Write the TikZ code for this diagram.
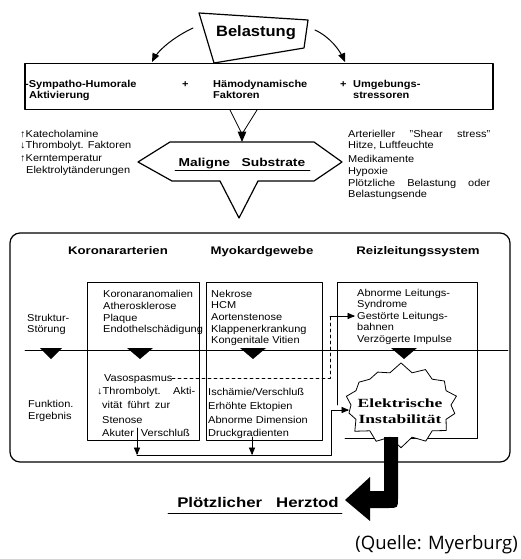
\documentclass[tikz,border=0pt]{standalone}
\usepackage{fontspec}
\setmainfont{Liberation Sans}[FakeStretch=1.1]
\newfontfamily\kopffont{Liberation Sans}[FakeStretch=1.2]
\newfontfamily\sternfont{Liberation Serif}[FakeStretch=1.4]
\newfontfamily\quellfont{Open Sans}
\usetikzlibrary{arrows,shapes.symbols}
\tikzset{
  zeile/.style={anchor=base west,inner sep=0pt,font=\fontsize{10}{12}\selectfont},
  fett/.style={anchor=base west,inner sep=0pt,font=\bfseries\fontsize{10}{12}\selectfont},
  kopf/.style={anchor=base,inner sep=0pt,font=\kopffont\bfseries\fontsize{11}{13}\selectfont},
  rahmen/.style={line width=0.8pt},
}

\begin{document}
\begin{tikzpicture}[line cap=round,line join=round,>=triangle 45,x=1pt,y=-1pt]
\useasboundingbox (0,0) rectangle (520,559);
% Belastung oben
\draw [line width=1.2pt] (199,13)-- (308,20)-- (304,48)-- (214,63)-- cycle;
\node[anchor=base,inner sep=0pt,font=\bfseries\fontsize{15}{17}\selectfont] (belastung) at (256,37) {Belastung};
\coordinate (bl) at (193,28);
\coordinate (br) at (315,30);
\coordinate (sl) at (152,62);
\coordinate (sr) at (345,62);
\draw [->,line width=1pt] (bl) .. controls (178,35) and (159,48) .. (sl);
\draw [->,line width=1pt] (br) .. controls (330,37) and (340,50) .. (sr);
% Faktoren
\node[draw,line width=1.2pt,minimum width=468pt,minimum height=46pt,inner sep=0pt] (faktoren) at (259,86.5) {};
\node[fett] (sympatho) at (25,88) {-Sympatho-Humorale};
\node[fett] (aktiv) at (29,99) {Aktivierung};
\node[fett] (plus1) at (182,88) {+};
\node[fett] (haemo) at (213,88) {Hämodynamische};
\node[fett] (fakt) at (213,99) {Faktoren};
\node[fett] (plus2) at (340,88) {+};
\node[fett] (umgeb) at (353,88) {Umgebungs-};
\node[fett] (stress) at (353,99) {stressoren};
% Trichter und Maligne Substrate
\coordinate (va) at (230,110);
\coordinate (vb) at (257,110);
\coordinate (vm) at (242,134);
\coordinate (ms) at (242,142);
\draw [rahmen] (va)-- (vm)-- (vb);
\draw [->,line width=1.4pt] (vm)-- (ms);
\draw [line width=1.2pt] (138,162)-- (170,142)-- (314,142)-- (342,162)-- (314,181)-- (258,181)-- (239,218)-- (220,181)-- (172,181)-- cycle;
\node[anchor=base,inner sep=0pt,font=\kopffont\bfseries\fontsize{11.5}{13}\selectfont] (maligne) at (242,166) {Maligne\quad Substrate};
\draw [rahmen] (175,170)-- (310,170);
\foreach \y/\t [count=\i] in {137/{↑Katecholamine},148/{↓Thrombolyt. Faktoren},161/{↑Kerntemperatur},173/{\hspace{6pt}Elektrolytänderungen}}
  \node[zeile] (links\i) at (20,\y) {\t};
\foreach \y/\t [count=\i] in {137/{\makebox[142pt][s]{Arterieller "Shear stress"}},148/{Hitze, Luftfeuchte},162/{Medikamente},174/{Hypoxie},186/{\makebox[142pt][s]{Plötzliche Belastung oder}},197/{Belastungsende}}
  \node[zeile] (rechts\i) at (348,\y) {\t};
% grosser Kasten
\draw [line width=1.2pt,rounded corners=10pt] (10,233) rectangle (510,462);
\node[kopf] (koronar) at (118,254) {Koronararterien};
\node[kopf] (myokard) at (262,254) {Myokardgewebe};
\node[kopf] (reiz) at (418,254) {Reizleitungssystem};
\node[zeile] (struktur) at (27,321) {Struktur-};
\node[zeile] (stoerung) at (27,332) {Störung};
\node[zeile] (funktion) at (28,407) {Funktion.};
\node[zeile] (ergebnis) at (28,419) {Ergebnis};
% Spalten
\draw [rahmen] (87,282) rectangle (199,440);
\draw [rahmen] (206,282) rectangle (322,440);
\draw [rahmen] (337,405) |- (477,282) |- (345,438);
\draw [rahmen] (25,350)-- (508,350);
\foreach \x/\w in {51/22,140/26,253/26,404/26}
  \fill ({\x-\w/2},348)-- ({\x+\w/2},348)-- (\x,359)-- cycle;
\foreach \y/\t [count=\i] in {297/Koronaranomalien,309/Atherosklerose,321/Plaque,332/Endothelschädigung}
  \node[zeile] (kor\i) at (103,\y) {\t};
\foreach \y/\t [count=\i] in {297/Nekrose,308/HCM,320/Aortenstenose,332/Klappenerkrankung,343/{Kongenitale Vitien}}
  \node[zeile] (myo\i) at (211,\y) {\t};
\foreach \y/\t [count=\i] in {296/{Abnorme Leitungs-},307/Syndrome,319/{Gestörte Leitungs-},330/bahnen,342/{Verzögerte Impulse}}
  \node[zeile] (reiz\i) at (357,\y) {\t};
\node[zeile] (vaso) at (104,381) {Vasospasmus};
\node[zeile] (thromb) at (97,394) {\makebox[98pt][s]{↓Thrombolyt. Akti-}};
\node[zeile] (vitaet) at (102,408) {\makebox[68pt][s]{vität führt zur}};
\node[zeile] (stenose) at (102,423) {Stenose};
\node[zeile] (akut) at (102,436) {Akuter\hspace{7pt}Verschluß};
\foreach \y/\t [count=\i] in {395/{Ischämie/Verschluß},409/{Erhöhte Ektopien},423/{Abnorme Dimension},436/Druckgradienten}
  \node[zeile] (fkt\i) at (208,\y) {\t};
% Verbindungen
\coordinate (d1) at (172,378);
\coordinate (d2) at (330,378);
\coordinate (d3) at (330,316);
\draw [dashed,rahmen] (d1)-- (d2)-- (d3);
\draw [->,line width=0.7pt,shorten >=2pt] (d3)-- (d3-|reiz3.west);
\coordinate (s1) at (137,428);
\coordinate (s2) at (252,437);
\coordinate (k1) at (137,455);
\coordinate (k2) at (252,455);
\coordinate (k3) at (331,455);
\coordinate (k4) at (331,410);
\coordinate (e1) at (349,410);
\draw [->,line width=0.7pt] (s1)-- (k1);
\draw [->,line width=0.7pt] (s2)-- (k2);
\node[starburst,draw,fill=white,line width=0.8pt,minimum width=120pt,minimum height=86pt,starburst points=14,starburst point height=10pt,random starburst=7] (instab) at (401,405) {};
\node[anchor=base,inner sep=0pt,font=\sternfont\bfseries\fontsize{12.5}{14}\selectfont] (elek) at (400,407) {Elektrische};
\node[anchor=base,inner sep=0pt,font=\sternfont\bfseries\fontsize{12.5}{14}\selectfont] (instab2) at (400,423) {Instabilität};
\draw [->,line width=0.7pt] (k1)-- (k3)-- (k4)-- (e1);
% dicker Pfeil
\fill (384,437)-- (384,491)-- (370,491)-- (370,477)-- (345,500)-- (370,521)-- (370,508)-- (388,508) .. controls (398,508) .. (398,498)-- (398,437)-- cycle;
% Herztod
\node[anchor=base,inner sep=0pt,font=\kopffont\bfseries\fontsize{14}{16}\selectfont] (herztod) at (258,507) {Plötzlicher\quad Herztod};
\draw [rahmen] (168,513)-- (342,513);
\node[anchor=base east,inner sep=0pt,font=\quellfont\fontsize{18.5}{21}\selectfont] (quelle) at (518,549) {(Quelle: Myerburg)};
\end{tikzpicture}
\end{document}
